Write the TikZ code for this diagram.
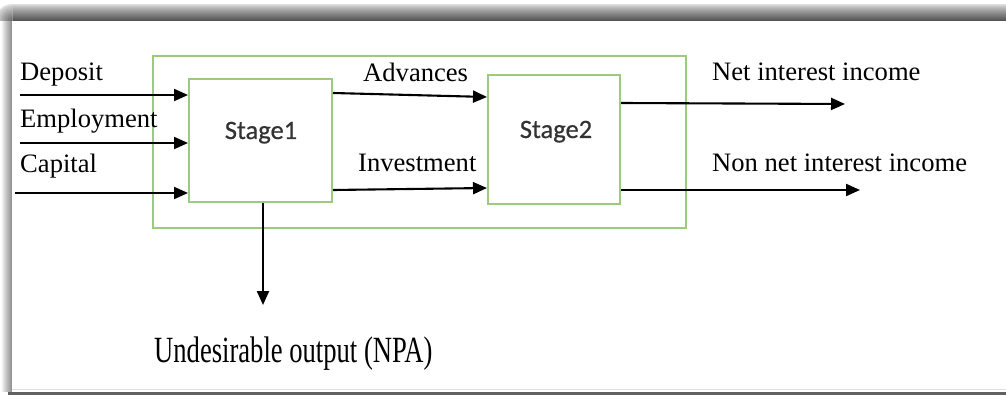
\documentclass[tikz,border=0pt]{standalone}
\usepackage{fontspec}
\setmainfont{Liberation Serif}
\newfontfamily\stagefont[FakeBold=0.6]{Carlito}
\usetikzlibrary{arrows.meta,calc}
\definecolor{boxgreen}{HTML}{9CCB7E}
\definecolor{stagegray}{HTML}{333333}
\begin{document}
\begin{tikzpicture}[x=1pt,y=-1pt,
  lbl/.style={anchor=base west, inner sep=0pt, font=\fontsize{26.6}{30}\selectfont},
  greenbox/.style={draw=boxgreen, line width=2pt, inner sep=0pt},
  stagelbl/.style={anchor=base, inner sep=0pt, text=stagegray, font=\stagefont\fontsize{26.5}{30}\selectfont},
  arr/.style={line width=2.1pt, -{Triangle[length=14pt,width=12pt]}}
]
\useasboundingbox (0,0) rectangle (1006,395);
\fill[white] (0,0) rectangle (1006,395);
% page shadow (top band, left band, corner)
\foreach \i in {0,...,16}{
  \pgfmathsetmacro{\shd}{int(12+55*(\i/16)^0.8)}
  \fill[black!\shd] (12,4+\i) rectangle (1006,5.05+\i);
}
\foreach \i in {0,...,9}{
  \pgfmathsetmacro{\shl}{int(6+36*(\i/9)^0.9)}
  \fill[black!\shl] (2+\i,21) rectangle (3.05+\i,392);
}
\begin{scope}
  \clip (0,0) rectangle (12,21);
  \foreach \r in {17,16,...,1}{
    \pgfmathsetmacro{\shc}{int(10+48*((17-\r)/16)^0.8)}
    \fill[black!\shc] (12,21) circle (\r);
  }
\end{scope}
\fill[black!62] (8,392) rectangle (1006,395);
\fill[black!12] (12,389) rectangle (1006,390);

% boxes
\node[greenbox, minimum width=533pt, minimum height=172pt] (outer) at (419.5,142) {};
\node[greenbox, fill=white, minimum width=143pt, minimum height=123pt] (s1) at (260.5,140.5) {};
\node[greenbox, fill=white, minimum width=132pt, minimum height=129pt] (s2) at (554,139.5) {};
\node[stagelbl] (s1t) at (261,139) {Stage1};
\node[stagelbl] (s2t) at (556,138) {Stage2};

% free ends
\coordinate (in1) at (20,95);
\coordinate (in2) at (20,143);
\coordinate (in3) at (15,193);
\coordinate (out1) at (845,104);
\coordinate (out2) at (860,190);
\coordinate (npa) at (263,305);

% arrows
\draw[arr] (in1) -- (s1.west |- in1);
\draw[arr] (in2) -- (s1.west |- in2);
\draw[arr] (in3) -- (s1.west |- in3);
\draw[arr] (s1.east |- 0,93) -- (s2.west |- 0,97);
\draw[arr] (s1.east |- 0,190) -- (s2.west |- 0,188);
\draw[arr] (s2.east |- 0,103) -- (out1);
\draw[arr] (s2.east |- 0,190) -- (out2);
\draw[arr] (s1.south -| npa) -- (npa);

% labels
\node[lbl] (ldep) at (20,81) {Deposit};
\node[lbl] (lemp) at (20,128) {Employment};
\node[lbl] (lcap) at (20,172.5) {Capital};
\node[lbl] (ladv) at (363,82) {Advances};
\node[lbl] (linv) at (358,172) {Investment};
\node[lbl] (lnet) at (712,81) {Net interest income};
\node[lbl] (lnon) at (712,172) {Non net interest income};
\node[lbl] (lnpa) at (154,362) {\scalebox{1}[1.39]{Undesirable output (NPA)}};
\end{tikzpicture}
\end{document}
